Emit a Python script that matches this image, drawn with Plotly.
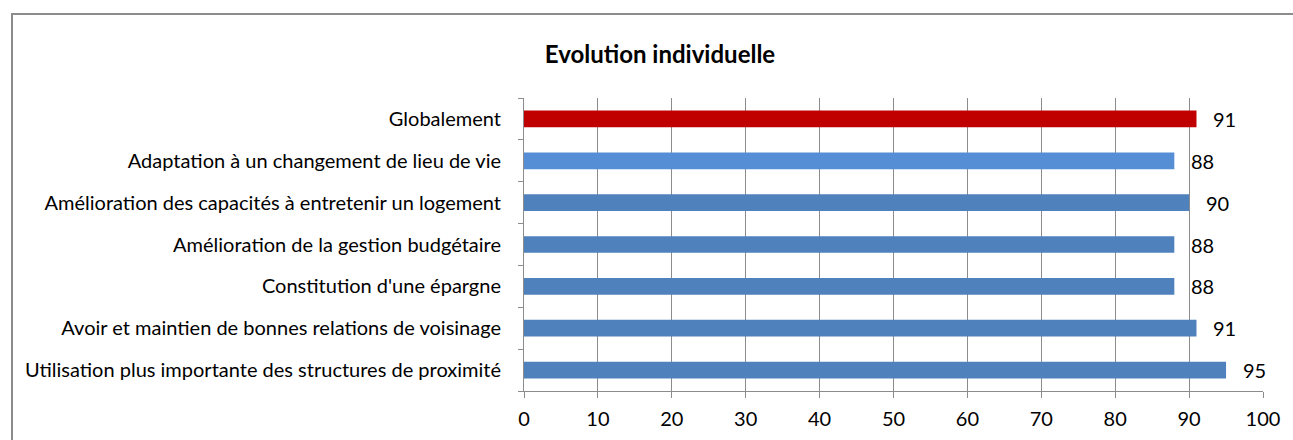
import plotly.graph_objects as go

categories = [
    "Utilisation plus importante des structures de proximité",
    "Avoir et maintien de bonnes relations de voisinage",
    "Constitution d'une épargne",
    "Amélioration de la gestion budgétaire",
    "Amélioration des capacités à entretenir un logement",
    "Adaptation à un changement de lieu de vie",
    "Globalement",
]
values = [95, 91, 88, 88, 90, 88, 91]
bar_colors = ["#4F81BD", "#4F81BD", "#4F81BD", "#4F81BD", "#4F81BD", "#558ED5", "#C00000"]
x_ticks = [0, 10, 20, 30, 40, 50, 60, 70, 80, 90, 100]

FONT = "Lato"
W, H = 1293, 440
L, R, T, B = 524, 30, 98, 49
pw, ph = W - L - R, H - T - B

fig = go.Figure()
fig.add_trace(go.Bar(
    y=categories, x=values, orientation="h",
    marker=dict(color=bar_colors, line=dict(width=0)),
    width=0.4, hoverinfo="x+y",
))

for c, v in zip(categories, values):
    fig.add_annotation(x=v, y=c, text=str(v), showarrow=False,
                       xanchor="left", xshift=15,
                       font=dict(family=FONT, size=20, color="#000000"))

# chart border
fig.add_shape(type="rect", xref="paper", yref="paper",
              x0=(12 - L) / pw, x1=(W + 20 - L) / pw,
              y0=(H - B - (H + 20)) / ph, y1=(H - B - 14) / ph,
              line=dict(color="#8C8C8C", width=2), layer="below")

fig.update_layout(
    width=W, height=H,
    margin=dict(l=L, r=R, t=T, b=B, autoexpand=False),
    paper_bgcolor="white", plot_bgcolor="white",
    showlegend=False,
    title=dict(text="<b>Evolution individuelle</b>", x=660 / W, xanchor="center",
               y=1 - 55 / H, yanchor="middle",
               font=dict(family=FONT, size=24, color="#000000")),
    font=dict(family=FONT, size=20, color="#000000"),
    xaxis=dict(range=[0, 100], tickvals=x_ticks, showgrid=True,
               gridcolor="#8C8C8C", gridwidth=1, zeroline=False,
               showline=True, linecolor="#8C8C8C", linewidth=1,
               ticks="outside", ticklen=6, tickcolor="#8C8C8C",
               ticklabelstandoff=4,
               tickfont=dict(family=FONT, size=20), fixedrange=True),
    yaxis=dict(type="category", categoryorder="array", categoryarray=categories,
               showline=True, linecolor="#8C8C8C", linewidth=1,
               ticks="outside", ticklen=5, tickcolor="#8C8C8C",
               tickson="boundaries", showgrid=False,
               ticklabelstandoff=18,
               tickfont=dict(family=FONT, size=20), fixedrange=True),
)

fig.write_html(
    "out.html",
    config={"displayModeBar": False},
    post_script="document.body.style.margin='0';document.body.style.overflow='hidden';",
)
